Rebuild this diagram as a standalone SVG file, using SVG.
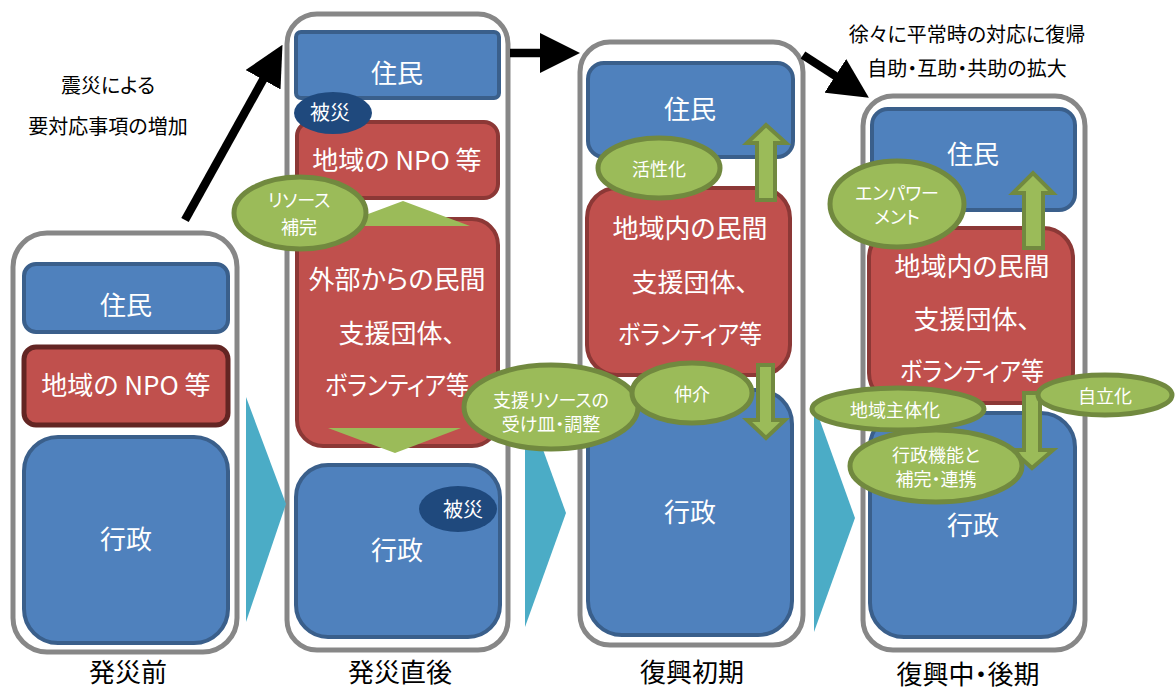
<svg xmlns="http://www.w3.org/2000/svg" width="1176" height="689" viewBox="0 0 1176 689">
<defs>
<style>
text{font-family:"Noto Sans CJK JP","Noto Sans",sans-serif;text-anchor:middle;dominant-baseline:central;font-feature-settings:"palt"}
.panel{fill:#fff;stroke:#878787;stroke-width:5}
.blue{fill:#4F81BD;stroke:#3A5F8B;stroke-width:4}
.red{fill:#C0504D;stroke:#8C3836;stroke-width:4}
.red2{fill:#C0504D;stroke:#632523;stroke-width:5}
.badge{fill:#9BBB59;stroke:#71893F;stroke-width:5}
.dmg{fill:#1F497D}
.garrow{fill:#9BBB59;stroke:#71893F;stroke-width:4;stroke-linejoin:miter}
.tri{fill:#9BBB59}
.chev{fill:#4BACC6}
.barrow{fill:none;stroke:#000;stroke-width:8.5}
.w{fill:#fff}
.big{font-size:26px}
.lbl{font-size:26px;fill:#000}
.note{font-size:20px;fill:#000}
.sm{font-size:18px;fill:#fff}
.md{font-size:20px;fill:#fff}
</style>
<marker id="ah" viewBox="0 -20 40 40" refX="2" refY="0" markerWidth="40" markerHeight="40" markerUnits="userSpaceOnUse" orient="auto">
<path d="M0,-20 L40,0 L0,20 z" fill="#000"/>
</marker>
</defs>
<rect width="1176" height="689" fill="#fff"/>

<g id="note-left">
<text x="108" y="84" class="note">震災による</text>
<text x="108" y="125" class="note">要対応事項の増加</text>
</g>
<g id="note-right">
<text x="967" y="33" class="note">徐々に平常時の対応に復帰</text>
<text x="967" y="67" class="note">自助・互助・共助の拡大</text>
</g>

<g id="panel1">
<rect class="panel" x="13" y="233" width="224" height="419" rx="34"/>
<rect class="blue" x="24" y="264" width="204" height="68" rx="12"/>
<text x="126" y="303" class="big w">住民</text>
<rect class="red2" x="24" y="347" width="204" height="78" rx="12"/>
<text x="126" y="383" class="big w">地域の NPO 等</text>
<rect class="blue" x="24" y="437" width="204" height="206" rx="34"/>
<text x="126" y="537" class="big w">行政</text>
<text x="128" y="670" class="lbl">発災前</text>
</g>

<g id="panel2">
<rect class="panel" x="287" y="14" width="221" height="636" rx="30"/>
<rect class="blue" x="296" y="32" width="203" height="66" rx="5"/>
<text x="397" y="71" class="big w">住民</text>
<rect class="red" x="297" y="122" width="201" height="76" rx="14"/>
<text x="397" y="158" class="big w">地域の NPO 等</text>
<rect class="red" x="297" y="219" width="201" height="227" rx="26"/>
<text x="397" y="277" class="big w">外部からの民間</text>
<text x="397" y="331" class="big w">支援団体、</text>
<text x="397" y="383" class="big w" textLength="144" lengthAdjust="spacingAndGlyphs">ボランティア等</text>
<rect class="blue" x="296" y="465" width="204" height="172" rx="32"/>
<text x="397" y="548" class="big w">行政</text>
<text x="400" y="670" class="lbl">発災直後</text>
</g>

<g id="panel3">
<rect class="panel" x="580" y="42" width="223" height="603" rx="30"/>
<rect class="blue" x="588" y="63" width="205" height="94" rx="16"/>
<text x="690" y="107" class="big w">住民</text>
<rect class="blue" x="588" y="390" width="204" height="245" rx="34"/>
<text x="690" y="510" class="big w">行政</text>
<rect class="red" x="587" y="188" width="203" height="187" rx="30"/>
<text x="690" y="226" class="big w">地域内の民間</text>
<text x="690" y="280" class="big w">支援団体、</text>
<text x="690" y="332" class="big w" textLength="144" lengthAdjust="spacingAndGlyphs">ボランティア等</text>
<text x="692" y="670" class="lbl">復興初期</text>
</g>

<g id="panel4">
<rect class="panel" x="863" y="96" width="222" height="554" rx="30"/>
<rect class="blue" x="872" y="109" width="203" height="101" rx="16"/>
<text x="973" y="152" class="big w">住民</text>
<rect class="blue" x="870" y="413" width="205" height="224" rx="34"/>
<text x="973" y="523" class="big w">行政</text>
<rect class="red" x="869" y="228" width="204" height="175" rx="30"/>
<text x="972" y="264" class="big w">地域内の民間</text>
<text x="972" y="317" class="big w">支援団体、</text>
<text x="972" y="369" class="big w" textLength="144" lengthAdjust="spacingAndGlyphs">ボランティア等</text>
<text x="968" y="672" class="lbl">復興中・後期</text>
</g>

<g id="connectors">
<polygon class="chev" points="246,397 286,504 246,622"/>
<polygon class="chev" points="525,400 566,513 525,627"/>
<polygon class="chev" points="814,404 855,518 814,632"/>
<path class="barrow" d="M185,220 L264,78" marker-end="url(#ah)"/>
<path class="barrow" d="M510,53 L542,53" marker-end="url(#ah)"/>
<path class="barrow" d="M803,55 L837,77" marker-end="url(#ah)"/>
<polygon class="tri" points="403,201 470,226 336,226"/>
<polygon class="tri" points="328,428 461,428 395,453"/>
<polygon class="garrow" points="757,200 775,200 775,143 786,143 766,125 747,143 757,143"/>
<polygon class="garrow" points="758,365 773,365 773,420 785,420 766,438 747,420 758,420"/>
<polygon class="garrow" points="1024,248 1043,248 1043,193 1053,193 1033,173 1013,193 1024,193"/>
<polygon class="garrow" points="1024,393 1040,393 1040,450 1053,450 1032,468 1012,450 1024,450"/>
</g>

<g id="badge-hisai1">
<ellipse class="dmg" cx="333" cy="113" rx="39" ry="21"/>
<text x="330" y="111" class="md">被災</text>
</g>
<g id="badge-hisai2">
<ellipse class="dmg" cx="458" cy="509" rx="39" ry="23"/>
<text x="463" y="508" class="md">被災</text>
</g>
<g id="badge-resource">
<ellipse class="badge" cx="300" cy="213" rx="66" ry="36"/>
<text x="299" y="199" class="sm">リソース</text>
<text x="299" y="226" class="sm">補完</text>
</g>
<g id="badge-ukezara">
<ellipse class="badge" cx="551" cy="407" rx="87" ry="42"/>
<text x="551" y="399" class="sm">支援リソースの</text>
<text x="551" y="423" class="sm">受け皿・調整</text>
</g>
<g id="badge-kasseika">
<ellipse class="badge" cx="659" cy="168" rx="61" ry="30"/>
<text x="659" y="168" class="sm">活性化</text>
</g>
<g id="badge-chukai">
<ellipse class="badge" cx="692" cy="393" rx="60" ry="30"/>
<text x="692" y="393" class="sm">仲介</text>
</g>
<g id="badge-empower">
<ellipse class="badge" cx="897" cy="204" rx="67" ry="43"/>
<text x="897" y="192" class="sm">エンパワー</text>
<text x="897" y="216" class="sm">メント</text>
</g>
<g id="badge-jiritsu">
<ellipse class="badge" cx="1105" cy="395" rx="67" ry="20"/>
<text x="1105" y="395" class="sm">自立化</text>
</g>
<g id="badge-chiiki">
<ellipse class="badge" cx="898" cy="409" rx="86" ry="21"/>
<text x="895" y="409" class="sm">地域主体化</text>
</g>
<g id="badge-gyosei">
<ellipse class="badge" cx="936" cy="466" rx="86" ry="36"/>
<text x="936" y="454" class="sm">行政機能と</text>
<text x="936" y="478" class="sm">補完・連携</text>
</g>
</svg>
